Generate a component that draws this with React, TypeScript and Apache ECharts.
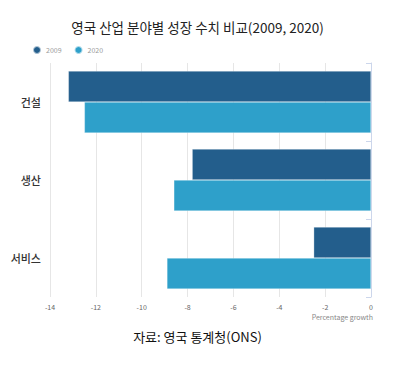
import React, { useEffect, useRef } from "react";
import * as echarts from "echarts";

const categories = ["건설", "생산", "서비스"];
const values2009 = [-13.2, -7.8, -2.5];
const values2020 = [-12.5, -8.6, -8.9];
const seriesNames = ["2009", "2020"];
const titleText = "영국 산업 분야별 성장 수치 비교(2009, 2020)";
const sourceText = "자료: 영국 통계청(ONS)";
const axisName = "Percentage growth";

export default function App() {
  const ref = useRef<HTMLDivElement>(null);
  useEffect(() => {
    if (!ref.current) return;
    const chart = echarts.init(ref.current, null, { renderer: "svg" });
    const font = "'Noto Sans CJK KR', 'Noto Sans', sans-serif";
    chart.setOption({
      animation: false,
      backgroundColor: "#ffffff",
      textStyle: { fontFamily: font },
      title: {
        text: titleText,
        left: "center",
        top: 15,
        textStyle: { fontSize: 13.5, fontWeight: "normal", color: "#222", fontFamily: font },
      },
      legend: {
        left: 27,
        top: 40,
        icon: "circle",
        itemWidth: 8,
        itemHeight: 8,
        itemGap: 12,
        textStyle: { fontSize: 7, color: "#999", fontFamily: font },
        data: seriesNames,
      },
      grid: { left: 50, right: 24, top: 63, bottom: 72, containLabel: false },
      xAxis: {
        type: "value",
        min: -14,
        max: 0,
        interval: 2,
        axisLine: { show: false },
        axisTick: { show: false },
        axisLabel: { fontSize: 7, color: "#666", margin: 6 },
        splitLine: { show: true, lineStyle: { color: "#e6e6e6", width: 1 } },
      },
      yAxis: {
        type: "category",
        inverse: true,
        data: categories,
        axisLine: { show: true, lineStyle: { color: "#ccd6eb" } },
        axisTick: { show: true, length: 5, lineStyle: { color: "#ccd6eb" } },
        axisLabel: { fontSize: 11, color: "#333", fontWeight: 500, margin: 9 },
        splitLine: { show: false },
      },
      series: [
        {
          name: seriesNames[0],
          type: "bar",
          data: values2009,
          barWidth: 31,
          barGap: "0%",
          itemStyle: { color: "#235e8c", borderColor: "rgba(255,255,255,0.6)", borderWidth: 0.5 },
        },
        {
          name: seriesNames[1],
          type: "bar",
          data: values2020,
          barWidth: 31,
          barGap: "0%",
          itemStyle: { color: "#2ea0ca", borderColor: "rgba(255,255,255,0.6)", borderWidth: 0.5 },
        },
      ],
      graphic: [
        {
          type: "text",
          right: 22,
          top: 313,
          style: { text: axisName, fontSize: 7, fill: "#888", fontFamily: font },
        },
        {
          type: "text",
          left: "center",
          top: 330,
          style: { text: sourceText, fontSize: 13, fill: "#111", fontFamily: font },
        },
      ],
    });
    return () => chart.dispose();
  }, []);
  return <div ref={ref} style={{ width: 395, height: 369, margin: -8 }} />;
}
